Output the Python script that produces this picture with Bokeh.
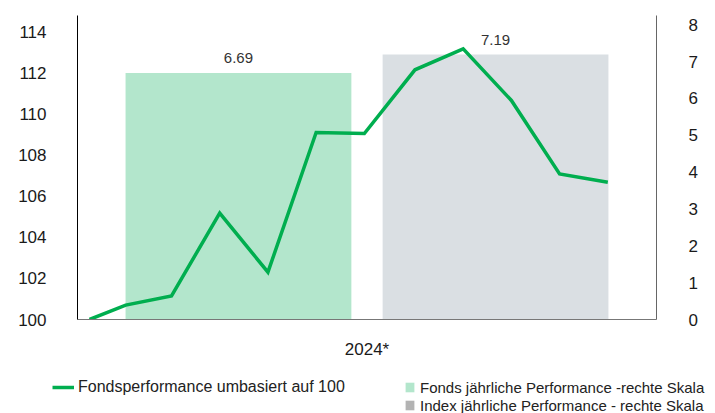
from bokeh.plotting import figure
from bokeh.layouts import column
from bokeh.models import (Range1d, FactorRange, LinearAxis, Legend, LegendItem,
                          ColumnDataSource, SingleIntervalTicker)
from bokeh.transform import dodge
from bokeh.core.properties import value
from bokeh.embed import file_html
from bokeh.resources import INLINE

# ---- data ----
categories = ["2024*"]
fund_annual = [6.69]
index_annual = [7.19]
fund_labels = ["6.69"]
index_labels = ["7.19"]
# fund performance rebased to 100 (x in months from start of 2024)
line_months = [0, 0.75, 1.7, 2.7, 3.7, 4.7, 5.7, 6.75, 7.75, 8.75, 9.75, 10.75]
line_values = [100.0, 100.70, 101.15, 105.17, 102.30, 109.09, 109.04,
               112.14, 113.16, 110.65, 107.08, 106.67]
legend_line_label = "Fondsperformance umbasiert auf 100"
legend_bar_labels = ["Fonds jährliche Performance -rechte Skala",
                     "Index jährliche Performance - rechte Skala"]

# span of the category "2024*" expressed in months
MONTH_START, MONTH_END = -0.25, 11.76
line_x = [(m - MONTH_START) / (MONTH_END - MONTH_START) for m in line_months]

FONT = "Liberation Sans"
GREEN = "#00ae4f"
FUND_BAR = "#b3e6cc"
INDEX_BAR = "#dadfe3"
INDEX_SWATCH = "#b3b3b3"

bar_src = ColumnDataSource(dict(cat=categories, fund=fund_annual, index=index_annual,
                                fl=fund_labels, il=index_labels))
line_src = ColumnDataSource(dict(x=line_x, v=line_values))

p = figure(x_range=FactorRange(factors=categories, range_padding=0),
           y_range=Range1d(100, 114.78),
           frame_width=579, frame_height=304,
           min_border_left=77, min_border_right=59, min_border_top=15, min_border_bottom=43,
           output_backend="svg", toolbar_location=None)
p.extra_y_ranges = {"right": Range1d(0, 8.25)}

p.outline_line_color = None
p.xgrid.visible = False
p.ygrid.visible = False
p.background_fill_color = "white"
p.border_fill_color = "white"

# bars (right scale)
b1 = p.vbar(x=dodge("cat", -0.222, range=p.x_range), top="fund", width=0.39,
            source=bar_src, y_range_name="right", fill_color=FUND_BAR, line_color=None)
b2 = p.vbar(x=dodge("cat", 0.222, range=p.x_range), top="index", width=0.39,
            source=bar_src, y_range_name="right", fill_color=INDEX_BAR, line_color=None)

# bar value labels
for off, col, lab in ((-0.222, "fund", "fl"), (0.222, "index", "il")):
    p.text(x=dodge("cat", off, range=p.x_range), y=col,
           text=lab, source=bar_src, y_range_name="right",
           text_align="center", text_baseline="bottom", y_offset=-10,
           text_font=value(FONT), text_font_size="15px", text_color="#333333")

# line (left scale)
ln = p.line(x="x", y="v", source=line_src,
            line_color=GREEN, line_width=3.5, line_join="miter")

# axes
ya = p.yaxis[0]
ya.ticker = SingleIntervalTicker(interval=2)
ya.axis_line_color = "#000000"
ya.major_tick_line_color = None
ya.minor_tick_line_color = None
ya.major_tick_out = 0
ya.major_label_standoff = 27
ya.major_label_text_font = FONT
ya.major_label_text_font_size = "17px"
ya.major_label_text_color = "#1a1a1a"

ra = LinearAxis(y_range_name="right", ticker=SingleIntervalTicker(interval=1))
ra.axis_line_color = "#666666"
ra.major_tick_line_color = None
ra.minor_tick_line_color = None
ra.major_tick_out = 0
ra.major_label_standoff = 28
ra.major_label_text_font = FONT
ra.major_label_text_font_size = "17px"
ra.major_label_text_color = "#1a1a1a"
p.add_layout(ra, "right")

xa = p.xaxis[0]
xa.axis_line_color = "#777777"
xa.major_tick_line_color = None
xa.minor_tick_line_color = None
xa.major_tick_out = 0
xa.major_label_standoff = 20
xa.major_label_text_font = FONT
xa.major_label_text_font_size = "17px"
xa.major_label_text_color = "#1a1a1a"

# ---- legend strip (separate figure; its swatch renderers reuse the chart's data,
#      which lies outside this strip's ranges, so only the legend is visible) ----
lp = figure(x_range=Range1d(0, 1), y_range=Range1d(0, 1),
            frame_width=715, frame_height=51,
            min_border_left=0, min_border_right=0, min_border_top=0, min_border_bottom=0,
            x_axis_type=None, y_axis_type=None,
            output_backend="svg", toolbar_location=None)
lp.outline_line_color = None
lp.xgrid.visible = False
lp.ygrid.visible = False
lp.background_fill_color = "white"
lp.border_fill_color = "white"

sw_line = lp.line(x="x", y="v", source=line_src, line_color=GREEN, line_width=3.5)
sw_fund = lp.vbar(x="fund", top="fund", width=0.5, source=bar_src,
                  fill_color=FUND_BAR, line_color=None)
sw_index = lp.vbar(x="index", top="index", width=0.5, source=bar_src,
                   fill_color=INDEX_SWATCH, line_color=None)

def style(lg, size):
    lg.border_line_color = None
    lg.background_fill_alpha = 0
    lg.padding = 0
    lg.margin = 0
    lg.spacing = 0
    lg.label_text_font = FONT
    lg.label_text_font_size = size
    lg.label_text_color = "#222222"
    lg.label_height = 18

lg1 = Legend(items=[LegendItem(label=legend_line_label, renderers=[sw_line])],
             location=(52, 17))
style(lg1, "16px")
lg1.glyph_width = 22
lg1.glyph_height = 12
lg1.label_standoff = 4
lp.add_layout(lg1, "center")

lg2 = Legend(items=[LegendItem(label=legend_bar_labels[0], renderers=[sw_fund]),
                    LegendItem(label=legend_bar_labels[1], renderers=[sw_index])],
             location=(404, -1))
style(lg2, "15px")
lg2.glyph_width = 11
lg2.glyph_height = 12
lg2.label_standoff = 5
lp.add_layout(lg2, "center")

layout = column(p, lp, spacing=0)
open("out.html", "w").write(file_html(layout, INLINE))
